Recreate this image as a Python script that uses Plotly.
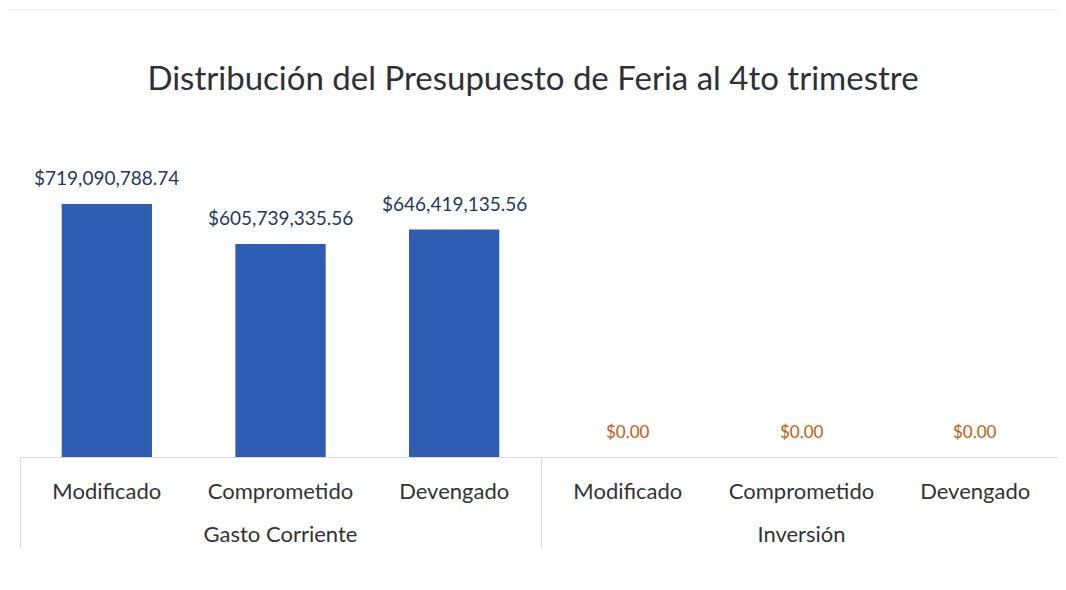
import plotly.graph_objects as go

grupos = ["Gasto Corriente"] * 3 + ["Inversión"] * 3
etapas = ["Modificado", "Comprometido", "Devengado"] * 2
montos = [719090788.74, 605739335.56, 646419135.56, 0.00, 0.00, 0.00]
color_etiqueta = ["#1F3864"] * 3 + ["#C55A11"] * 3
tam_etiqueta = [19] * 3 + [17] * 3

fig = go.Figure()
fig.add_trace(go.Bar(
    x=[grupos, [e + "<br>\u00a0" for e in etapas]],
    y=montos,
    marker=dict(color="#2E5EB4", line=dict(width=0)),
    cliponaxis=False,
    hoverinfo="skip",
))

# etiquetas de datos
for i, v in enumerate(montos):
    fig.add_annotation(
        x=i, y=v, xref="x", yref="y",
        text=f"${v:,.2f}", showarrow=False,
        yanchor="bottom", yshift=13,
        font=dict(family="Lato", size=tam_etiqueta[i], color=color_etiqueta[i]),
    )

# borde tenue del area del grafico
fig.add_shape(type="line", xref="paper", yref="paper", x0=-0.0125, x1=1.02,
              y0=1.456, y1=1.456, line=dict(color="#E6E6E6", width=1))
fig.add_shape(type="line", xref="paper", yref="paper", x0=-0.0125, x1=-0.0125,
              y0=1.456, y1=-0.4, line=dict(color="#E6E6E6", width=1))

fig.update_layout(
    width=1066, height=590,
    paper_bgcolor="white", plot_bgcolor="white",
    margin=dict(l=12, r=12, t=142, b=141),
    bargap=0.48,
    showlegend=False,
    title=dict(text="Distribución del Presupuesto de Feria al 4to trimestre",
               x=0.4925, xanchor="center", y=0.881, yanchor="middle",
               font=dict(family="Lato", size=33, color="#2F2F38")),
    font=dict(family="Lato", color="#333333"),
)
fig.update_xaxes(
    type="multicategory",
    showline=True, linecolor="#D9D9D9", linewidth=1,
    showdividers=True, dividercolor="#D9D9D9", dividerwidth=1,
    tickfont=dict(family="Lato", size=22, color="#333333"),
    ticklabelstandoff=15,
    ticks="",
)
fig.update_yaxes(range=[0, 872.6e6], visible=False, showgrid=False)

fig.write_html("out.html")
